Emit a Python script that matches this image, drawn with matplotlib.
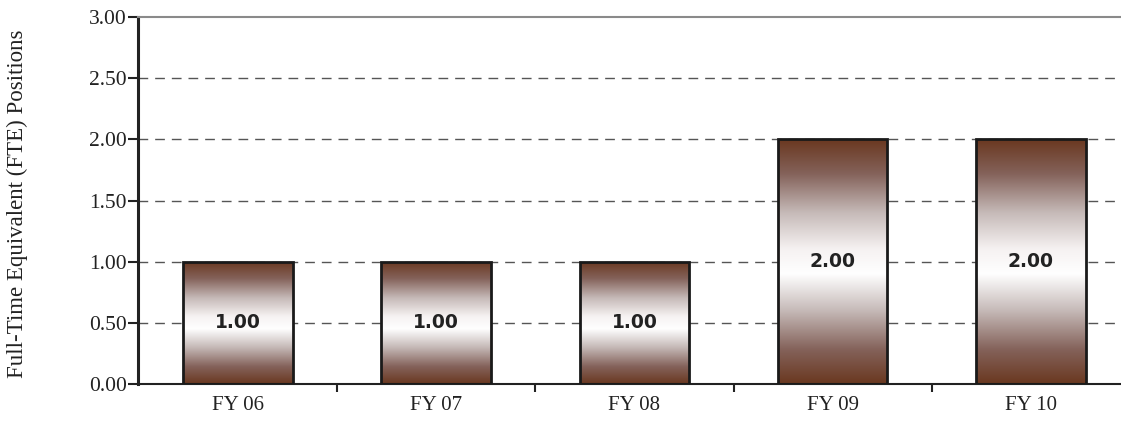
import numpy as np
import matplotlib
matplotlib.use("Agg")
import matplotlib.pyplot as plt
from matplotlib.colors import LinearSegmentedColormap
from matplotlib.patches import Rectangle

# Data
categories = ["FY 06", "FY 07", "FY 08", "FY 09", "FY 10"]
fte = [1.00, 1.00, 1.00, 2.00, 2.00]
yticks = [0.0, 0.5, 1.0, 1.5, 2.0, 2.5, 3.0]

brown = "#6a3820"
cmap = LinearSegmentedColormap.from_list(
    "barfade", [(0.0, brown), (0.14, "#84625a"), (0.3, "#c6bab8"),
                (0.45, "#ffffff"), (0.55, "#f6f2f2"), (0.7, "#c6bab8"),
                (0.86, "#84625a"), (1.0, brown)])

fig = plt.figure(figsize=(11.21, 4.24), dpi=100)
ax = fig.add_axes([138 / 1121, 40 / 424, (1120 - 138) / 1121, (384 - 17) / 424])

x = np.arange(len(categories))
width = 0.553
bars = ax.bar(x, fte, width=width, color="none", edgecolor="#1a1a1a",
              linewidth=2, zorder=3)

# vertical gradient inside every bar
grad = np.linspace(0, 1, 256).reshape(-1, 1)
for b, v in zip(bars, fte):
    x0, y0 = b.get_x(), b.get_y()
    w, h = b.get_width(), b.get_height()
    im = ax.imshow(grad, cmap=cmap, aspect="auto", origin="lower",
                   extent=[x0, x0 + w, y0, y0 + h], zorder=2,
                   interpolation="bicubic")
    im.set_clip_path(Rectangle((x0, y0), w, h, transform=ax.transData))
    ax.text(b.get_x() + w / 2, v / 2, f"{v:.2f}", ha="center", va="center",
            fontsize=13.5, fontweight="bold", color="#222222",
            family="DejaVu Sans", zorder=4)

ax.set_xlim(-0.505, 4.45)
ax.set_ylim(0, 3.0)
ax.set_yticks(yticks)
ax.set_yticklabels([f"{t:.2f}" for t in yticks], family="Liberation Serif",
                   fontsize=15.5, color="#222222")
ax.set_xticks(x[:-1] + 0.5, minor=False)
ax.set_xticklabels([])
ax.set_xticks(x, minor=True)
ax.set_xticklabels(categories, minor=True, family="Liberation Serif",
                   fontsize=15, color="#222222")
ax.tick_params(axis="x", which="minor", length=0, pad=9)
ax.tick_params(axis="x", which="major", length=6, width=1.5, color="#222222")
ax.tick_params(axis="y", length=7, width=1.5, color="#222222", pad=1)

for t in yticks[1:-1]:
    ax.axhline(t, color="#555555", lw=1, ls=(0, (7, 5)), zorder=1)

ax.spines["right"].set_visible(False)
ax.spines["top"].set_color("#8a8a8a")
ax.spines["top"].set_linewidth(1.5)
ax.spines["left"].set_linewidth(2.2)
ax.spines["left"].set_color("#222222")
ax.spines["bottom"].set_linewidth(1.5)
ax.spines["bottom"].set_color("#222222")

fig.text(17 / 1121, (424 - 204) / 424, "Full-Time Equivalent (FTE) Positions",
         rotation=90, ha="center", va="center", family="Liberation Serif",
         fontsize=16.5, color="#222222")

fig.savefig("out.png", dpi=100)
